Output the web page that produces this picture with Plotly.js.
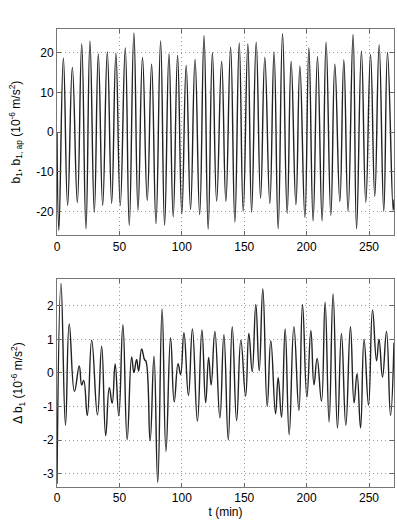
<!DOCTYPE html>
<html>
<head>
<meta charset="utf-8">
<script src="https://cdn.plot.ly/plotly-3.0.1.min.js"></script>
<style>html,body{margin:0;padding:0;background:#fff;}#chart{width:397px;height:529px;}</style>
</head>
<body>
<div id="chart"></div>
<script>
// Top panel: extrema of b1 (t in min, value in 1e-6 m/s^2)
var topT = [0, 1.5, 5.1, 8.5, 12.3, 16.3, 19.8, 23.2, 26.4, 29.9, 33.1, 36.6, 40.3, 43.8, 47.2, 50.7, 54.7, 57.9, 61.6, 64.9,
  68.5, 72.3, 75.8, 79.3, 83, 86.2, 89.7, 93.1, 96.6, 100, 103.5, 107, 110.6, 114.3, 117.8, 121.1, 124.5, 127.9, 131.9, 135.3,
  139.1, 142.5, 146, 149.2, 152.9, 155.9, 159.6, 163.1, 166.5, 170.5, 173.9, 177.2, 180.7, 184.4, 187.6, 191.4, 194.6, 198.6,
  201.8, 205.2, 208.7, 212.4, 215.6, 219.4, 222.6, 226.6, 229.8, 233.2, 237.2, 240, 243.9, 247.4, 251.2, 254.6, 258.1, 261.8,
  264.8, 269.3, 270];
var topV = [0, -24.8, 18.7, -18.5, 16.3, -17.8, 22.2, -24.4, 22.9, -20.2, 19.7, -18.5, 20.2, -18, 19.9, -18.5, 21.2, -23.5, 25, -19.7,
  18.8, -17.2, 17.1, -23.1, 23, -23.5, 19.7, -21.4, 19.3, -20.6, 16.8, -19.5, 18.3, -20.8, 24.3, -24.5, 20, -17.4, 17.8, -17.5,
  21.4, -22.7, 22.5, -20, 22.2, -20.2, 22.7, -16.7, 18.8, -18, 20.2, -24.4, 24.8, -20.5, 17.8, -18.3, 16.6, -21.5,
  21.2, -22.4, 19, -22.4, 22.7, -21, 17.1, -17.5, 18.2, -20, 24.6, -24.4, 20.4, -17.7, 19.6, -16.2, 22, -20,
  20.1, -19.7, -17];

// Bottom panel: extrema of delta b1
var botT = [0, 3.2, 6.8, 9.8, 14, 17.8, 19.8, 21.4, 24.3, 27.8, 32.4, 35.8, 39, 41.9, 44.2, 46.6, 49.5, 52.8, 56.2, 59.8,
  61.6, 63.8, 65.4, 67.8, 70.1, 71.3, 74.6, 77.7, 80.7, 84.2, 87.3, 91, 93.9, 97, 99, 101.7, 105.3, 108.5, 112.5, 116.1,
  119.1, 121.5, 123.5, 126.5, 130.5, 133.7, 137.2, 140.4, 143.9, 147.3, 151.1, 153.7, 156.4, 159.3, 162, 164.9, 168.4, 171.3,
  175.1, 177.2, 179.9, 182.8, 186, 189.8, 193.8, 196.7, 200.2, 203.4, 205.9, 208.4, 211.9, 214.8, 218, 221.2, 224.7, 227.9,
  231.4, 235.1, 238, 240.4, 243.2, 246, 249.6, 252.8, 256, 258, 260.8, 264, 267.2, 270];
var botV = [-3.3, 2.67, -1.56, 1.46, -0.55, 0.21, -0.36, -0.22, -1.27, 0.98, -1.25, 0.8, -1.87, -0.44, -0.9, 0.27, -1.28, 1.44, -1.99, 0.48,
  0.01, 0.4, 0.06, 0.72, 0.4, 0.35, -2.02, 0.5, -3.27, 1.91, -2.34, 1.05, -0.86, 0.28, -0.05, 1.2, -0.67, 1.31, -1.44, 1.28,
  -0.89, 0.46, -0.36, 1.24, -1.34, 1.14, -1.99, 1.38, -1.42, 0.98, -0.69, 1.18, 0.04, 2.04, 0.06, 2.51, -0.99, 0.96,
  -1.22, -0.14, -1.32, 1.31, -1.84, 1.38, -1.12, 2.04, -0.72, 1.27, -0.35, 0.43, -0.84, 2.11, -1.46, 2.36, -1.64, 1.18,
  -1.56, 1.38, -0.89, -0.02, -1.64, 1.01, -0.96, 1.88, 0.36, 1.01, -0.12, 1.24, -1.26, 0.9];

var xTicks = [0, 50, 100, 150, 200, 250];
var xTickText = ["0", "50", "100", "150", "200", "250"];
var topTicks = [-20, -10, 0, 10, 20];
var topTickText = ["-20", "-10", "0", "10", "20"];
var botTicks = [-3, -2, -1, 0, 1, 2];
var botTickText = ["-3", "-2", "-1", "0", "1", "2"];

var lineStyle = {color: '#222', width: 1.4, shape: 'spline', smoothing: 1.3};
var traces = [
  {x: topT, y: topV, type: 'scatter', mode: 'lines', line: lineStyle, xaxis: 'x', yaxis: 'y', hoverinfo: 'skip'},
  {x: botT, y: botV, type: 'scatter', mode: 'lines', line: lineStyle, xaxis: 'x2', yaxis: 'y2', hoverinfo: 'skip'}
];

var fontFam = 'Liberation Sans, Arial, sans-serif';
function xa(anchor) {
  return {domain: [0, 1], anchor: anchor, range: [0, 270], tickvals: xTicks, ticktext: xTickText,
    ticks: 'inside', ticklen: 4, tickcolor: '#666', showline: true, linecolor: '#777', linewidth: 1, mirror: 'ticks',
    showgrid: true, gridcolor: '#999', griddash: '1px,3px', gridwidth: 1, zeroline: false,
    tickfont: {family: fontFam, size: 12, color: '#000'}};
}
function ya(anchor, dom, rng, tv, tt, title, so) {
  return {domain: dom, anchor: anchor, range: rng, tickvals: tv, ticktext: tt,
    ticks: 'inside', ticklen: 4, tickcolor: '#666', showline: true, linecolor: '#777', linewidth: 1, mirror: 'ticks',
    showgrid: true, gridcolor: '#999', griddash: '1px,3px', gridwidth: 1, zeroline: false,
    tickfont: {family: fontFam, size: 12, color: '#000'},
    title: {text: title, font: {family: fontFam, size: 12, color: '#000'}, standoff: so}};
}

var xa1 = xa('y');
var xa2 = xa('y2');
xa2.title = {text: 't (min)', font: {family: fontFam, size: 12, color: '#000'}, standoff: 2};

var layout = {
  width: 397, height: 529,
  margin: {l: 57, r: 3, t: 29, b: 42},
  paper_bgcolor: '#fff', plot_bgcolor: '#fff',
  showlegend: false,
  xaxis: xa1,
  yaxis: ya('x', [0.550, 1], [-26, 26], topTicks, topTickText, 'b<sub>1</sub>, b<sub>1, ap</sub> (10<sup>-6</sup> m/s<sup>2</sup>)', 13),
  xaxis2: xa2,
  yaxis2: ya('x2', [0, 0.454], [-3.4, 2.8], botTicks, botTickText, 'Δ b<sub>1</sub> (10<sup>-6</sup> m/s<sup>2</sup>)', 17)
};

Plotly.newPlot('chart', traces, layout, {staticPlot: true, displayModeBar: false});
</script>
</body>
</html>
